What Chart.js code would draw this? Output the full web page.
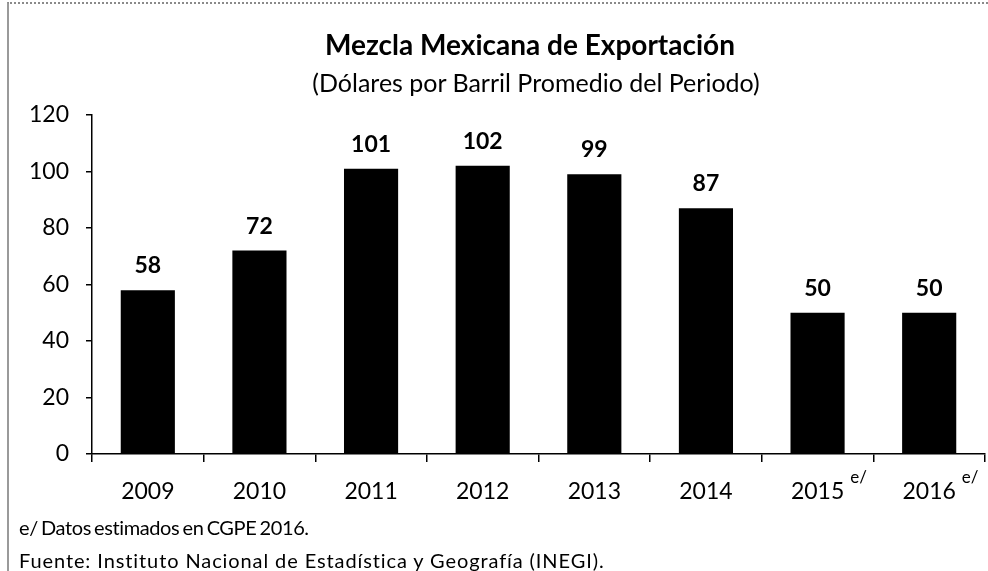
<!DOCTYPE html>
<html lang="es">
<head>
  <meta charset="UTF-8">
  <title>Mezcla Mexicana de Exportación</title>
  <script src="https://cdn.jsdelivr.net/npm/chart.js"></script>
  <style>
    body {
      margin: 0;
      background: #fff;
      font-family: Lato, 'Open Sans', sans-serif;
    }

    #wrap {
      position: relative;
      width: 988px;
      height: 571px;
      overflow: hidden;
      background: #fff;
    }

    #frame {
      position: absolute;
      left: 7px;
      top: 2px;
      right: 0;
      bottom: 0;
      border-left: 2px solid #9a9a9a;
      border-top: 2px dotted #8a8a8a;
    }

    #chart {
      position: absolute;
      left: 0;
      top: 0;
    }

    .txt {
      position: absolute;
      color: #000;
      white-space: nowrap;
      line-height: 1;
    }

    #title { left: 230px; width: 600px; text-align: center; top: 30px; font-size: 28px; font-weight: bold; }
    #subtitle { left: 236px; width: 600px; text-align: center; top: 70px; font-size: 25px; }
    #note1 { left: 19px; top: 517px; font-size: 20px; letter-spacing: -0.4px; word-spacing: -1.5px; }
    #note2 { left: 19px; top: 550px; font-size: 20px; letter-spacing: 0.9px; }
  </style>
</head>
<body>
  <div id="wrap">
    <div id="frame"></div>
    <canvas id="chart" width="988" height="571"></canvas>
    <div class="txt" id="title">Mezcla Mexicana de Exportación</div>
    <div class="txt" id="subtitle">(Dólares por Barril Promedio del Periodo)</div>
    <div class="txt" id="note1">e/ Datos estimados en CGPE 2016.</div>
    <div class="txt" id="note2">Fuente: Instituto Nacional de Estadística y Geografía (INEGI).</div>
  </div>

  <script>
    // datos
    const years = ['2009', '2010', '2011', '2012', '2013', '2014', '2015', '2016'];
    const prices = [58, 72, 101, 102, 99, 87, 50, 50];
    const estimated = [false, false, false, false, false, false, true, true];
    const yMax = 120;
    const yStep = 20;

    const FONT = 'Lato, "Open Sans", sans-serif';

    // etiquetas de valor encima de cada barra
    const valueLabels = {
      id: 'valueLabels',
      afterDatasetsDraw(chart) {
        const ctx = chart.ctx;
        const meta = chart.getDatasetMeta(0);
        ctx.save();
        ctx.font = 'bold 23px ' + FONT;
        ctx.fillStyle = '#000';
        ctx.textAlign = 'center';
        ctx.textBaseline = 'alphabetic';
        meta.data.forEach((bar, i) => {
          ctx.fillText(String(prices[i]), bar.x, bar.y - 17);
        });
        ctx.restore();
      }
    };

    // superindice "e/" en los años estimados
    const superscripts = {
      id: 'superscripts',
      afterDraw(chart) {
        const ctx = chart.ctx;
        const x = chart.scales.x;
        ctx.save();
        ctx.font = '23px ' + FONT;
        ctx.fillStyle = '#000';
        years.forEach((y, i) => {
          if (!estimated[i]) return;
          const w = ctx.measureText(y).width;
          const cx = x.getPixelForValue(i);
          ctx.save();
          ctx.font = '17px ' + FONT;
          ctx.textAlign = 'left';
          ctx.textBaseline = 'middle';
          ctx.fillText('e/', cx + w / 2 + 6, 478);
          ctx.restore();
        });
        ctx.restore();
      }
    };

    new Chart(document.getElementById('chart'), {
      type: 'bar',
      data: {
        labels: years,
        datasets: [{
          data: prices,
          backgroundColor: '#000',
          borderWidth: 0,
          categoryPercentage: 1,
          barPercentage: 0.485
        }]
      },
      options: {
        responsive: false,
        animation: false,
        layout: { padding: { top: 115, right: 3, left: 0, bottom: 0 } },
        plugins: {
          legend: { display: false },
          tooltip: { enabled: false }
        },
        scales: {
          x: {
            grid: { display: true, drawOnChartArea: false, drawTicks: true, tickLength: 8, color: '#000', lineWidth: 1.5, offset: true },
            border: { color: '#000', width: 1.5 },
            ticks: { color: '#000', font: { family: FONT, size: 23 }, padding: 16, maxRotation: 0 },
            afterFit: s => { s.height = 117; }
          },
          y: {
            min: 0,
            max: yMax,
            grid: { display: true, drawOnChartArea: false, drawTicks: true, tickLength: 6, color: '#000', lineWidth: 1.5 },
            border: { color: '#000', width: 1.5 },
            ticks: { stepSize: yStep, color: '#000', font: { family: FONT, size: 23 }, padding: 17 },
            afterFit: s => { s.width = 92; }
          }
        }
      },
      plugins: [valueLabels, superscripts]
    });
  </script>
</body>
</html>
